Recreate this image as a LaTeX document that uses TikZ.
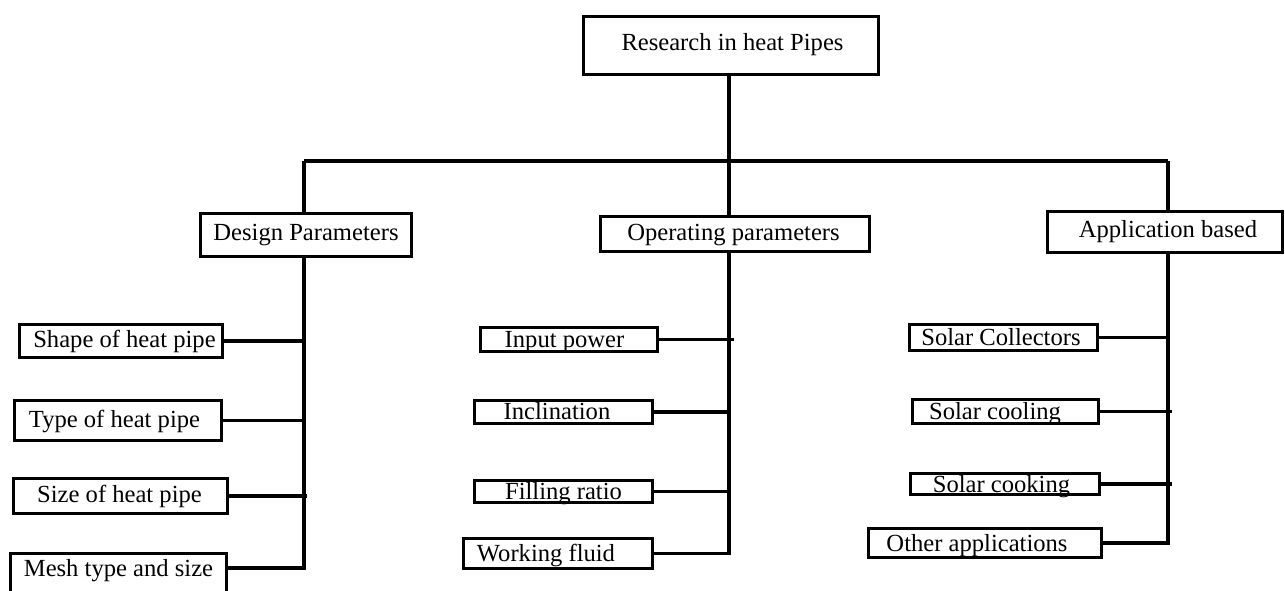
\documentclass[tikz,border=0pt]{standalone}
\usepackage{fontspec}
\setmainfont{Liberation Serif}
\newcommand\txl[2]{#2\kern#1pt}
\newcommand\txr[2]{\kern#1pt#2}
\begin{document}
\begin{tikzpicture}[x=1pt,y=-1pt,
  box/.style={draw,line width=3.2pt,inner sep=0pt,align=center,
    text height=16pt,text depth=4pt,
    font=\fontsize{24.6}{28}\selectfont},
  off/.style={text height=10pt+#1pt,text depth=10pt-#1pt},
  conn/.style={line width=3.2pt}]
\clip (0,0) rectangle (1285,590);
% nodes
\node[box,off=5,minimum width=295,minimum height=58] (top) at (731,45.5) {\txr{3}{Research in heat Pipes}};
\node[box,off=5.5,minimum width=211,minimum height=43] (design) at (306,235) {Design Parameters};
\node[box,off=6.5,minimum width=269,minimum height=35] (oper) at (735,234) {\txl{3}{Operating parameters}};
\node[box,off=5.5,minimum width=235,minimum height=41] (app) at (1165,232) {\txr{6}{Application based}};
\node[box,off=6,minimum width=203,minimum height=33] (shape) at (121,341) {\txr{7}{Shape of heat pipe}};
\node[box,off=7,minimum width=207,minimum height=40] (type) at (118,420.5) {\txl{7}{Type of heat pipe}};
\node[box,off=6,minimum width=214,minimum height=35] (size) at (120.5,496) {\txl{2}{Size of heat pipe}};
\node[box,minimum width=216,text height=23pt,text depth=22pt,anchor=north] (mesh) at (118.5,551.5) {Mesh type and size};
\node[box,off=7.5,minimum width=177,minimum height=24] (input) at (569,339.5) {\txl{9}{Input power}};
\node[box,off=7.5,minimum width=178,minimum height=23] (incl) at (563.5,412) {\txl{13}{Inclination}};
\node[box,off=8,minimum width=178,minimum height=22] (fill) at (563.5,491.5) {Filling ratio};
\node[box,off=7.5,minimum width=189,minimum height=30] (work) at (558,553.5) {\txl{24}{Working fluid}};
\node[box,off=7.5,minimum width=188,minimum height=26] (coll) at (1003.5,337.5) {\txl{5}{Solar Collectors}};
\node[box,off=7.5,minimum width=186,minimum height=24] (cool) at (1005.5,411.5) {\txl{21}{Solar cooling}};
\node[box,off=8,minimum width=189,minimum height=21] (cook) at (1005,484) {\txl{7}{Solar cooking}};
\node[box,off=8,minimum width=233,minimum height=29] (other) at (985,543) {\txl{16}{Other applications}};
% junction coordinates
\coordinate (hub) at (729,161);
\coordinate (hl) at (304,161);
\coordinate (hr) at (1168,161);
\coordinate (dend) at (304,568);
\coordinate (oend) at (729,553.5);
\coordinate (aend) at (1168,543);
% trunk
\draw[conn] (top.south -| hub) -- (hub);
\draw[conn] (hl) -- (hr);
\draw[conn] (hl) -- (hl |- design.north);
\draw[conn] (hub) -- (hub |- oper.north);
\draw[conn] (hr) -- (hr |- app.north);
% design branch
\draw[conn] (design.south -| dend) -- (dend) -- (dend -| mesh.east);
\draw[conn] (shape.east) -- (shape.east -| dend);
\draw[conn] (type.east) -- (type.east -| dend);
\draw[conn] (size.east) -- ([xshift=3pt]size.east -| dend);
% operating branch
\draw[conn] (oper.south -| oend) -- (oend) -- (work.east);
\draw[conn] (input.east) -- ([xshift=5pt]input.east -| oend);
\draw[conn] (incl.east) -- (incl.east -| oend);
\draw[conn] (fill.east) -- (fill.east -| oend);
% application branch
\draw[conn] (app.south -| aend) -- (aend) -- (other.east);
\draw[conn] (coll.east) -- (coll.east -| aend);
\draw[conn] (cool.east) -- ([xshift=4pt]cool.east -| aend);
\draw[conn] (cook.east) -- ([xshift=4pt]cook.east -| aend);
\end{tikzpicture}
\end{document}
